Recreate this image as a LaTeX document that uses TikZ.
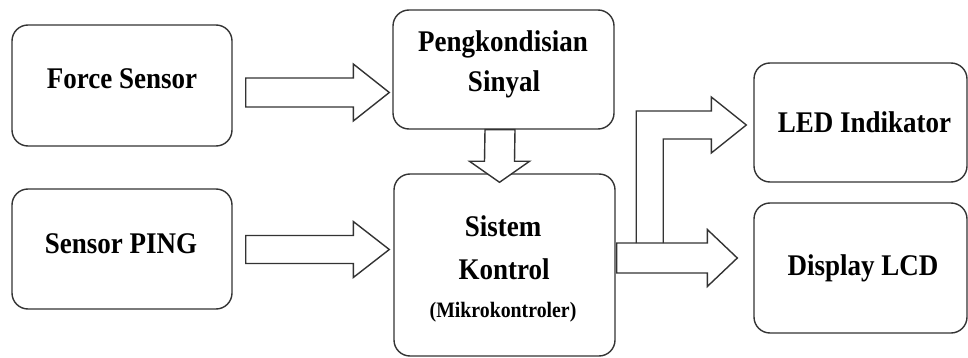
\documentclass[tikz,border=0pt]{standalone}
\usepackage{fontspec}
\setmainfont{Liberation Serif}
\usetikzlibrary{calc}

% labels are set slightly narrower than the font's natural width
\newcommand\narrow[1]{\scalebox{0.9}[1]{#1}}

% horizontal block arrow: start, tip, shaft half-width, head half-width, head length
\newcommand\hblockarrow[5]{%
  \draw[blockarrow] ($(#1)+(0,-#3)$) -- ($(#2)+(-#5,-#3)$) -- ($(#2)+(-#5,-#4)$)
    -- (#2) -- ($(#2)+(-#5,#4)$) -- ($(#2)+(-#5,#3)$) -- ($(#1)+(0,#3)$) -- cycle;}
% downward block arrow: start, tip, shaft half-width, head half-width, head length
\newcommand\vblockarrow[5]{%
  \draw[blockarrow] ($(#1)+(-#3,0)$) -- ($(#2)+(-#3,-#5)$) -- ($(#2)+(-#4,-#5)$)
    -- (#2) -- ($(#2)+(#4,-#5)$) -- ($(#2)+(#3,-#5)$) -- ($(#1)+(#3,0)$) -- cycle;}

\begin{document}
\begin{tikzpicture}[x=1pt,y=-1pt,
  blockbox/.style={draw=black!80, line width=1.4pt, rounded corners=16pt,
    fill=white, inner sep=0pt},
  blockarrow/.style={draw=black!80, line width=1.4pt, fill=white, line join=miter},
  lbl/.style={anchor=base, inner sep=0pt, text=black,
    font=\bfseries\fontsize{30}{30}\selectfont},
  smalllbl/.style={lbl, font=\bfseries\fontsize{22}{22}\selectfont}]

\useasboundingbox (0,0) rectangle (968,358);

% blocks
\node[blockbox, minimum width=220pt, minimum height=121pt] (force) at (122,85.5) {};
\node[blockbox, minimum width=220pt, minimum height=120pt] (ping)  at (122,249) {};
\node[blockbox, minimum width=221pt, minimum height=119pt] (cond)  at (503.5,69.5) {};
\node[blockbox, minimum width=221pt, minimum height=182pt] (ctrl)  at (504.5,265) {};
\node[blockbox, minimum width=213pt, minimum height=119pt] (led)   at (860.5,122.5) {};
\node[blockbox, minimum width=213pt, minimum height=130pt] (lcd)   at (860.5,268) {};

% block labels
\node[lbl] (tforce) at (122,89)  {\narrow{Force Sensor}};
\node[lbl] (tping)  at (121,253) {\narrow{Sensor PING}};
\node[lbl] (tcond1) at (503,52)  {\narrow{Pengkondisian}};
\node[lbl] (tcond2) at (504,92)  {\narrow{Sinyal}};
\node[lbl] (tctrl1) at (503,236) {\narrow{Sistem}};
\node[lbl] (tctrl2) at (504,279) {\narrow{Kontrol}};
\node[smalllbl] (tctrl3) at (503,317) {\narrow{(Mikrokontroler)}};
\node[lbl] (tled)   at (864.5,133) {\narrow{LED Indikator}};
\node[lbl] (tlcd)   at (863,275) {\narrow{Display LCD}};

% Force Sensor -> Pengkondisian Sinyal
\coordinate (a1s) at ($(force.east)+(13,7)$);
\coordinate (a1t) at ($(a1s -| cond.west)+(-3,0)$);
\hblockarrow{a1s}{a1t}{14.5}{28.5}{36}

% Sensor PING -> Sistem Kontrol
\coordinate (a2s) at ($(ping.east)+(13,0.5)$);
\coordinate (a2t) at ($(a2s -| ctrl.west)+(-4,0)$);
\hblockarrow{a2s}{a2t}{14}{28}{36}

% Pengkondisian Sinyal -> Sistem Kontrol
\coordinate (a3s) at ($(cond.south)+(-3.5,0)$);
\coordinate (a3t) at ($(ctrl.north)+(-5,9)$);
\vblockarrow{a3s}{a3t}{15}{30}{21}

% Sistem Kontrol -> Display LCD
\coordinate (a4s) at ($(ctrl.east)+(1,-7)$);
\coordinate (a4t) at ($(a4s -| lcd.west)+(-16,0)$);
\hblockarrow{a4s}{a4t}{15}{28.5}{30}

% branch up to LED Indikator, joined onto the upper edge of the LCD arrow
\coordinate (j1) at ($(a4s)+(19.5,-15)$);
\coordinate (j2) at ($(a4s)+(46.5,-15)$);
\coordinate (a5t) at ($(led.west)+(-7,2.5)$);
\draw[blockarrow, fill=none] (j1) |- ($(a5t)+(-35,-14)$) -- ($(a5t)+(-35,-28)$)
  -- (a5t) -- ($(a5t)+(-35,28)$) -- ($(a5t)+(-35,14)$) -| (j2);

\end{tikzpicture}
\end{document}
